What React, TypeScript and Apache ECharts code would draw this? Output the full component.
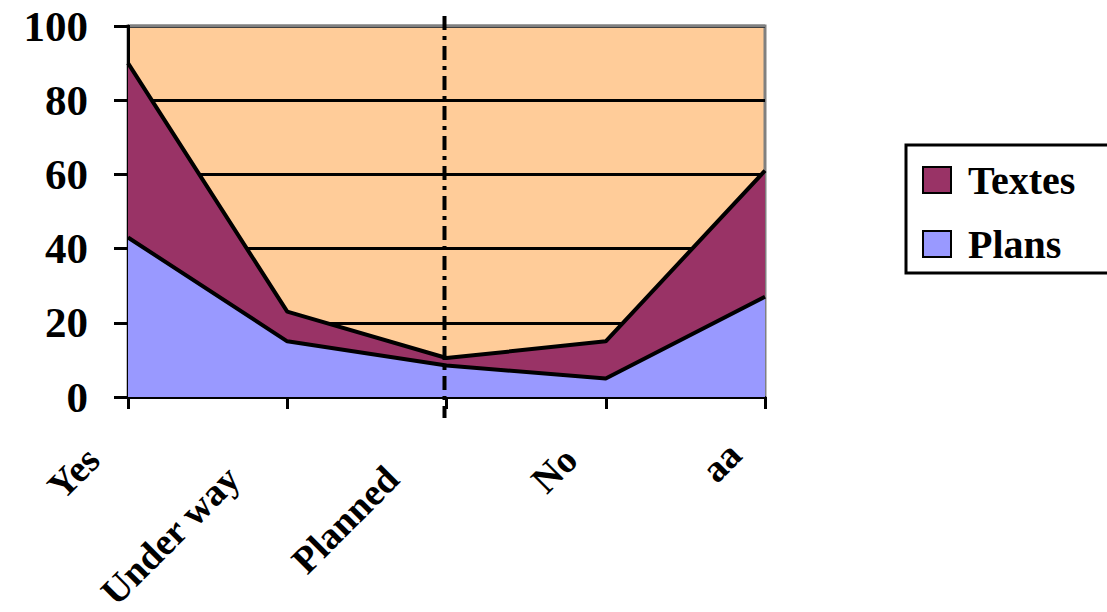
import React, { useEffect, useRef } from "react";
import * as echarts from "echarts";

const categories = ["Yes", "Under way", "Planned", "No", "aa"];
const plans = [43, 15, 8.5, 5, 27];
const textes = [47, 8, 2, 10, 34];
const yTicks = { min: 0, max: 100, interval: 20 };
const markerCategory = "Planned";

const FONT = "'Liberation Serif', 'Times New Roman', serif";

export default function App() {
  const ref = useRef<HTMLDivElement>(null);
  useEffect(() => {
    if (!ref.current) return;
    const chart = echarts.init(ref.current, undefined, { renderer: "svg" });
    const labelStyle = {
      fontFamily: FONT,
      fontWeight: "bold",
      fontSize: 38,
      color: "#000",
    };
    chart.setOption({
      animation: false,
      grid: {
        left: 128,
        right: 342,
        top: 26,
        bottom: 215,
        containLabel: false,
        outerBoundsMode: "none",
        show: true,
        backgroundColor: "#FFCC99",
        borderColor: "#808080",
        borderWidth: 3,
      },
      legend: {
        orient: "vertical",
        left: 906,
        top: 145,
        padding: [15, 60, 9, 16],
        borderColor: "#000",
        borderWidth: 3,
        itemWidth: 28,
        itemHeight: 26,
        itemGap: 24,
        textStyle: {
          fontFamily: FONT,
          fontWeight: "bold",
          fontSize: 40,
          lineHeight: 38,
          color: "#000",
          padding: [0, 0, 0, 12],
        },
        data: [
          { name: "Textes", icon: "rect", itemStyle: { color: "#993366", borderColor: "#000", borderWidth: 2 } },
          { name: "Plans", icon: "rect", itemStyle: { color: "#9999FF", borderColor: "#000", borderWidth: 2 } },
        ],
      },
      xAxis: {
        type: "category",
        data: categories,
        boundaryGap: false,
        axisLine: { lineStyle: { color: "#000", width: 3 } },
        axisTick: { length: 12, lineStyle: { color: "#000", width: 3 } },
        axisLabel: {
          rotate: 45,
          interval: 0,
          margin: 21,
          hideOverlap: false,
          ...labelStyle,
          formatter: (v: string) =>
            v.length > 4 ? `{l|${v}}` : v.length < 3 && v !== "No" ? `{t|${v}}` : `{s|${v}}`,
          rich: {
            s: { ...labelStyle, padding: [0, 50, 0, 0] },
            t: { ...labelStyle, padding: [0, 43, 0, 0] },
            l: { ...labelStyle, padding: [0, 77, 0, 0] },
          },
        },
        splitLine: { show: false },
      },
      yAxis: {
        type: "value",
        min: yTicks.min,
        max: yTicks.max,
        interval: yTicks.interval,
        axisLine: { show: true, lineStyle: { color: "#000", width: 3 } },
        axisTick: { show: true, length: 14, lineStyle: { color: "#000", width: 3 } },
        axisLabel: {
          margin: 40,
          fontFamily: FONT,
          fontWeight: "bold",
          fontSize: 43,
          color: "#000",
        },
        splitLine: { show: true, lineStyle: { color: "#000", width: 3 } },
      },
      series: [
        {
          name: "Plans",
          type: "line",
          stack: "total",
          data: plans,
          showSymbol: false,
          symbol: "none",
          z: 3,
          lineStyle: { color: "#000", width: 4 },
          itemStyle: { color: "#9999FF" },
          areaStyle: { color: "#9999FF", opacity: 1 },
        },
        {
          name: "Textes",
          type: "line",
          stack: "total",
          data: textes,
          showSymbol: false,
          symbol: "none",
          z: 2,
          lineStyle: { color: "#000", width: 4 },
          itemStyle: { color: "#993366" },
          areaStyle: { color: "#993366", opacity: 1 },
        },
      ],
    });
    const x = chart.convertToPixel({ xAxisIndex: 0 }, markerCategory) as number;
    const yTop = chart.convertToPixel({ yAxisIndex: 0 }, yTicks.max) as number;
    const yBottom = chart.convertToPixel({ yAxisIndex: 0 }, yTicks.min) as number;
    const xLeft = chart.convertToPixel({ xAxisIndex: 0 }, categories[0]) as number;
    const xRight = chart.convertToPixel({ xAxisIndex: 0 }, categories[categories.length - 1]) as number;
    chart.setOption({
      graphic: [
        {
          type: "line",
          z: 100,
          shape: { x1: xLeft + 2, y1: yTop, x2: xRight, y2: yTop },
          style: { stroke: "#808080", lineWidth: 3 },
        },
        {
          type: "line",
          z: 101,
          shape: { x1: x - 2, y1: yTop - 10, x2: x - 2, y2: yBottom + 21 },
          style: { stroke: "#000", lineWidth: 4, lineDash: [14, 6, 4, 6] },
        },
      ],
    });
    return () => chart.dispose();
  }, []);
  return (
    <div
      ref={ref}
      style={{ position: "fixed", left: 0, top: 0, width: 1107, height: 612, background: "#fff" }}
    />
  );
}
